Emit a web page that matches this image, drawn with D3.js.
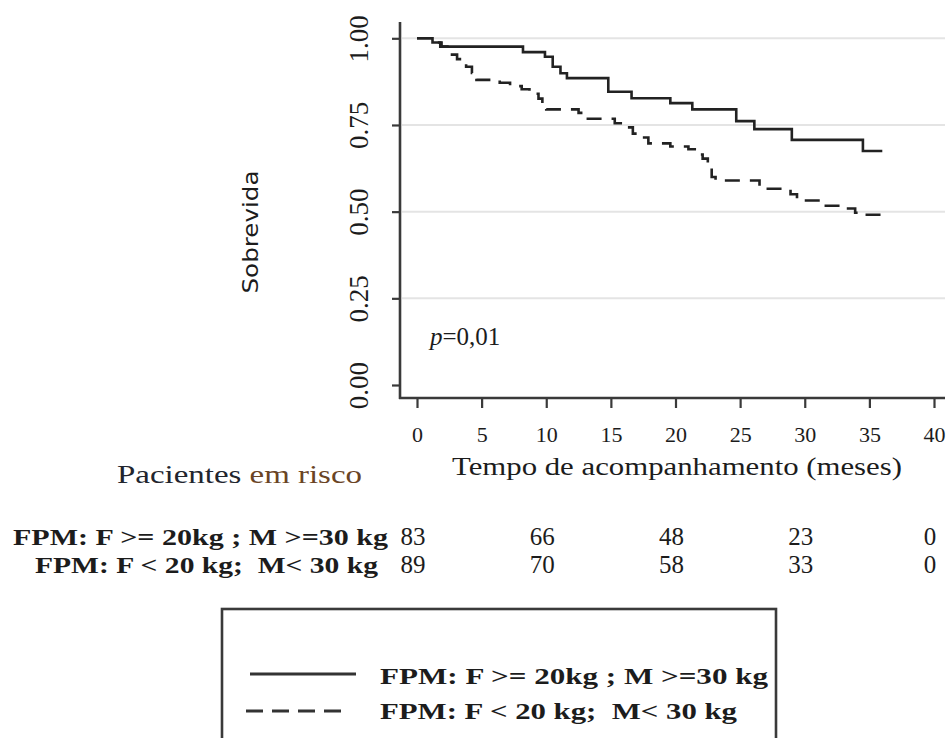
<!DOCTYPE html>
<html>
<head>
<meta charset="utf-8">
<script src="https://cdn.jsdelivr.net/npm/d3@7"></script>
<style>
  html, body { margin: 0; padding: 0; background: #fff; }
  svg { display: block; }
  text { font-family: "Liberation Serif", "Times New Roman", serif; fill: #1c1c1c; white-space: pre; }
</style>
</head>
<body>
<svg id="chart" width="952" height="738"></svg>
<script>
// Kaplan-Meier survival by grip strength (FPM) group
const groupLabels = ["FPM: F >= 20kg ; M >=30 kg", "FPM: F < 20 kg;  M< 30 kg"];

// Group 1 (solid): step times (months) and survival after each step
const solidTimes = [0, 1.2, 1.8, 8.2, 9.9, 10.5, 11.1, 11.6, 14.8, 16.6, 19.6, 21.3, 24.7, 26.1, 29.0, 34.5, 36.0];
const solidSurv  = [1.0, 0.988, 0.976, 0.960, 0.947, 0.918, 0.899, 0.885, 0.846, 0.827, 0.813, 0.795, 0.761, 0.738, 0.707, 0.675, 0.675];

// Group 2 (dashed)
const dashedTimes = [0, 1.2, 1.9, 2.55, 3.1, 3.8, 4.25, 4.6, 6.4, 7.2, 8.1, 8.7, 9.4, 9.7, 10.0, 12.5, 13.0, 15.3, 16.1, 16.7, 17.3, 17.9, 19.6, 21.0, 21.7, 22.1, 22.5, 22.8, 23.1, 26.5, 28.9, 29.4, 31.2, 33.1, 33.9, 34.7, 36.0];
const dashedSurv  = [1.0, 0.988, 0.976, 0.953, 0.94, 0.918, 0.90, 0.88, 0.872, 0.862, 0.853, 0.84, 0.826, 0.80, 0.795, 0.785, 0.768, 0.755, 0.743, 0.725, 0.714, 0.697, 0.688, 0.68, 0.665, 0.653, 0.625, 0.60, 0.59, 0.566, 0.55, 0.532, 0.517, 0.509, 0.497, 0.491, 0.491];

// Axis ticks
const xTicks = [0, 5, 10, 15, 20, 25, 30, 35, 40];
const yTicks = [0, 0.25, 0.5, 0.75, 1];
const yTickLabels = ["0.00", "0.25", "0.50", "0.75", "1.00"];
const gridValues = [0.25, 0.5, 0.75, 1];

// Numbers at risk
const riskTimes = [0, 10, 20, 30, 40];
const riskGroup1 = [83, 66, 48, 23, 0];
const riskGroup2 = [89, 70, 58, 33, 0];

const svg = d3.select("#chart");
const axisColor = "#3a3a3a";

const x = d3.scaleLinear().domain([0, 40]).range([417, 934]);
const y = d3.scaleLinear().domain([0, 1]).range([385, 38.3]);

const plotLeft = 400, plotBottom = 398, plotTop = 22, plotRight = 945;

// horizontal grid
svg.append("g").selectAll("line").data(gridValues).join("line")
  .attr("x1", plotLeft + 2).attr("x2", plotRight)
  .attr("y1", d => y(d)).attr("y2", d => y(d))
  .attr("stroke", "#e4e4e4").attr("stroke-width", 2);

// y axis
const yAxis = svg.append("g").attr("transform", `translate(${plotLeft},0)`)
  .call(d3.axisLeft(y).tickValues(yTicks).tickSize(8).tickSizeOuter(0)
    .tickFormat((d, i) => yTickLabels[i]));
yAxis.select(".domain").remove();
yAxis.selectAll(".tick line").attr("stroke", axisColor).attr("stroke-width", 2.2);
yAxis.selectAll(".tick text")
  .attr("transform", "rotate(-90)")
  .attr("x", 0).attr("y", -32).attr("dy", 0)
  .attr("text-anchor", "middle")
  .style("font-family", "'Liberation Serif', serif")
  .style("font-size", "27px").attr("fill", "#1c1c1c");

// x axis
const xAxis = svg.append("g").attr("transform", `translate(0,${plotBottom})`)
  .call(d3.axisBottom(x).tickValues(xTicks).tickSize(10).tickSizeOuter(0));
xAxis.select(".domain").remove();
xAxis.selectAll(".tick line").attr("stroke", axisColor).attr("stroke-width", 2.2);
xAxis.selectAll(".tick text")
  .attr("y", 44).attr("dy", 0)
  .style("font-family", "'Liberation Serif', serif")
  .style("font-size", "22px").attr("fill", "#1c1c1c");

// axis lines
svg.append("line").attr("x1", plotLeft).attr("x2", plotLeft).attr("y1", plotTop).attr("y2", plotBottom + 1)
  .attr("stroke", axisColor).attr("stroke-width", 2.6);
svg.append("line").attr("x1", plotLeft - 1).attr("x2", plotRight).attr("y1", plotBottom).attr("y2", plotBottom)
  .attr("stroke", axisColor).attr("stroke-width", 2.6);

// survival curves
const line = d3.line().x(d => x(d[0])).y(d => y(d[1])).curve(d3.curveStepAfter);
svg.append("path").datum(d3.zip(solidTimes, solidSurv))
  .attr("d", line).attr("fill", "none").attr("stroke", "#222").attr("stroke-width", 2.6);
svg.append("path").datum(d3.zip(dashedTimes, dashedSurv))
  .attr("d", line).attr("fill", "none").attr("stroke", "#222").attr("stroke-width", 2.6)
  .attr("stroke-dasharray", "15,10");

// axis titles
svg.append("text").attr("transform", "translate(258,232) rotate(-90)")
  .attr("text-anchor", "middle")
  .style("font-family", "'DejaVu Sans', sans-serif").style("font-size", "21px")
  .attr("textLength", 123).attr("lengthAdjust", "spacingAndGlyphs")
  .text("Sobrevida");

svg.append("text").attr("x", 452).attr("y", 475)
  .style("font-size", "25px")
  .attr("textLength", 450).attr("lengthAdjust", "spacingAndGlyphs")
  .text("Tempo de acompanhamento (meses)");

// p value
const pText = svg.append("text").attr("x", 430).attr("y", 345).style("font-size", "25px");
pText.append("tspan").style("font-style", "italic").text("p");
pText.append("tspan").text("=0,01");

// numbers at risk
const riskHead = svg.append("text").attr("x", 117).attr("y", 483)
  .style("font-size", "26px")
  .attr("textLength", 245).attr("lengthAdjust", "spacingAndGlyphs");
riskHead.append("tspan").attr("fill", "#22252e").text("Pacientes ");
riskHead.append("tspan").attr("fill", "#6a4424").text("em risco");

const riskRows = [
  { label: groupLabels[0], values: riskGroup1, x0: 13, len: 375, base: 545 },
  { label: groupLabels[1], values: riskGroup2, x0: 35, len: 343, base: 573 }
];
riskRows.forEach(r => {
  svg.append("text").attr("x", r.x0).attr("y", r.base)
    .style("font-size", "24px").style("font-weight", "bold")
    .attr("textLength", r.len).attr("lengthAdjust", "spacingAndGlyphs")
    .text(r.label);
  svg.append("g").selectAll("text").data(r.values).join("text")
    .attr("x", (d, i) => x(riskTimes[i]) - 4).attr("y", r.base)
    .attr("text-anchor", "middle")
    .style("font-size", "25px")
    .text(d => d);
});

// legend
svg.append("rect").attr("x", 222).attr("y", 609).attr("width", 554).attr("height", 140)
  .attr("fill", "none").attr("stroke", "#3a3a3a").attr("stroke-width", 2.6);
const legendItems = [
  { label: groupLabels[0], dash: null, ly: 674, base: 684, len: 388, x1: 250, x2: 356 },
  { label: groupLabels[1], dash: "17,9", ly: 711, base: 719, len: 357, x1: 246, x2: 346 }
];
legendItems.forEach(it => {
  svg.append("line").attr("x1", it.x1).attr("x2", it.x2).attr("y1", it.ly).attr("y2", it.ly)
    .attr("stroke", "#333").attr("stroke-width", 3)
    .attr("stroke-dasharray", it.dash);
  svg.append("text").attr("x", 380).attr("y", it.base)
    .style("font-size", "24px").style("font-weight", "bold")
    .attr("textLength", it.len).attr("lengthAdjust", "spacingAndGlyphs")
    .text(it.label);
});
</script>
</body>
</html>
